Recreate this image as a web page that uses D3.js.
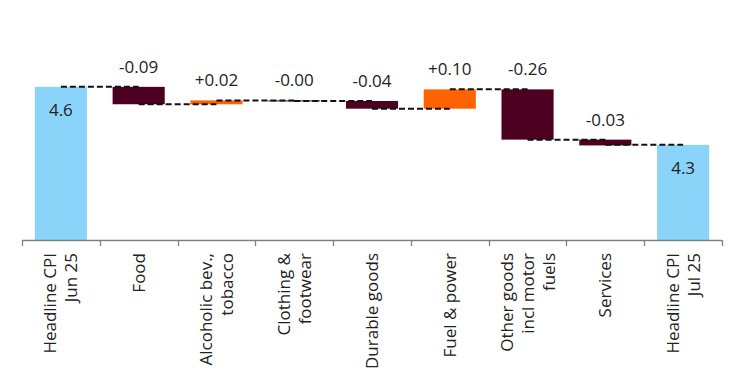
<!DOCTYPE html>
<html>
<head>
<meta charset="utf-8">
<script src="https://cdn.jsdelivr.net/npm/d3@7"></script>
<style>
  html, body { margin: 0; padding: 0; background: #fff; }
  svg { display: block; }
  text { font-family: "Open Sans", "Noto Sans", sans-serif; }
</style>
</head>
<body>
<svg id="chart" width="740" height="378"></svg>
<script>
// ---- data ----
const categories = [
  ["Headline CPI", "Jun 25"],
  ["Food"],
  ["Alcoholic bev.,", "tobacco"],
  ["Clothing &", "footwear"],
  ["Durable goods"],
  ["Fuel & power"],
  ["Other goods", "incl motor", "fuels"],
  ["Services"],
  ["Headline CPI", "Jul 25"]
];
const startValue = 4.6;
const endValue = 4.3;
const contributions = [-0.09, 0.02, -0.003, -0.04, 0.10, -0.26, -0.03];
const yTicks = [3.8, 5.0];

// ---- layout ----
const svg = d3.select("#chart");
const left = 22, right = 722, baseY = 240;
const colTotal = "#8AD4FA", colNeg = "#4D0020", colPos = "#FF6200";
const fs = 17;

const x = d3.scaleBand()
  .domain(d3.range(categories.length))
  .range([left, right])
  .paddingInner(0.33)
  .paddingOuter(0.165);

const y = d3.scaleLinear()
  .domain([yTicks[0], yTicks[1]])
  .range([241.5, 241.5 - 1.2 * 193.3]);

// build waterfall records
const recs = [];
recs.push({i: 0, lo: yTicks[0], hi: startValue, type: "total", label: startValue.toFixed(1), level: startValue});
let run = startValue;
contributions.forEach((c, k) => {
  const prev = run;
  run = run + c;
  recs.push({i: k + 1, lo: Math.min(prev, run), hi: Math.max(prev, run), type: c >= 0 ? "pos" : "neg",
    label: (c < 0 ? "-" : "+") + Math.abs(c).toFixed(2), level: run});
});
recs.push({i: categories.length - 1, lo: yTicks[0], hi: endValue, type: "total", label: endValue.toFixed(1), level: endValue});

// bars
svg.append("g").selectAll("rect").data(recs).join("rect")
  .attr("x", d => x(d.i))
  .attr("width", x.bandwidth())
  .attr("y", d => y(d.hi))
  .attr("height", d => Math.max(1, Math.min(y(d.lo), baseY) - y(d.hi)))
  .attr("fill", d => d.type === "total" ? colTotal : (d.type === "pos" ? colPos : colNeg));

// connectors
const cx = i => x(i) + x.bandwidth() / 2;
const conns = recs.slice(0, recs.length - 1).map((d, k) => ({
  x1: cx(d.i), x2: cx(recs[k + 1].i), yv: k === recs.length - 2 ? endValue : d.level
}));
svg.append("g").selectAll("line").data(conns).join("line")
  .attr("x1", d => d.x1).attr("x2", d => d.x2)
  .attr("y1", d => y(d.yv)).attr("y2", d => y(d.yv))
  .attr("stroke", "#111").attr("stroke-width", 2)
  .attr("stroke-dasharray", "6,3");

// value labels
svg.append("g").selectAll("text").data(recs).join("text")
  .attr("x", d => cx(d.i))
  .attr("y", d => d.type === "total" ? y(d.hi) + 29 : y(d.hi) - 14)
  .attr("text-anchor", "middle")
  .attr("font-size", fs)
  .attr("fill", "#222")
  .text(d => d.label);

// x axis line + boundary ticks
const axisG = svg.append("g");
axisG.append("line")
  .attr("x1", left).attr("x2", right).attr("y1", baseY + 0.5).attr("y2", baseY + 0.5)
  .attr("stroke", "#808080").attr("stroke-width", 1.3);
const bounds = d3.range(categories.length + 1).map(i => left + i * x.step());
axisG.selectAll("line.tick").data(bounds).join("line")
  .attr("class", "tick")
  .attr("x1", d => Math.round(d) + 0.5).attr("x2", d => Math.round(d) + 0.5)
  .attr("y1", baseY).attr("y2", baseY + 6)
  .attr("stroke", "#808080").attr("stroke-width", 1.3);

// category labels (rotated)
const lh = 21;
const labG = axisG.selectAll("g.lab").data(categories).join("g")
  .attr("class", "lab")
  .attr("transform", (d, i) => `translate(${cx(i)},${baseY + 13}) rotate(-90)`);
labG.each(function(lines) {
  const g = d3.select(this);
  const n = lines.length;
  lines.forEach((t, j) => {
    g.append("text")
      .attr("x", 0)
      .attr("y", (j - (n - 1) / 2) * lh + 6)
      .attr("text-anchor", "end")
      .attr("font-size", fs)
      .attr("fill", "#222")
      .text(t);
  });
});
</script>
</body>
</html>
